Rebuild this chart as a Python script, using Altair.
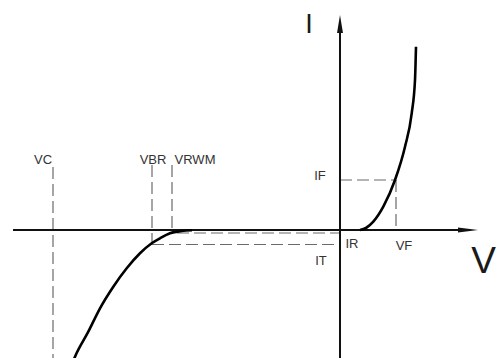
import altair as alt
import pandas as pd

# Forward characteristic (V, I)
fwd_v = [20, 26, 33.3, 43.3, 55, 65, 71.7, 75, 76]
fwd_i = [0, 2, 8.3, 23.3, 50, 83.3, 116.7, 150, 183.3]

# Reverse (breakdown) characteristic
rev_v = [-148, -158.3, -170, -180, -188.3, -200, -213.3, -226.7, -240, -251.7, -265, -268]
rev_i = [-0.3, -1, -3.3, -8.3, -13.3, -23.3, -38.3, -56.7, -78.3, -101.7, -126.7, -134]

# Dashed reference segments
seg_name = ["VC", "VBR", "VRWM", "IR", "IT", "IF", "VF"]
seg_v1 = [-287, -188, -168, -163, -188, 0, 56]
seg_v2 = [-287, -188, -168, 0, 0, 56, 56]
seg_i1 = [63, 65, 65, -3, -14.5, 50, 50]
seg_i2 = [-140, -15, 0, -3, -14.5, 50, 0]

# Small labels
lab_text = ["VC", "VBR", "VRWM", "IF", "IR", "VF", "IT"]
lab_v = [-297, -187, -145, -20, 12, 64, -19]
lab_i = [66, 66, 66, 50, -18, -20, -35]

# Axis labels
big_text = ["I", "V"]
big_v = [-31, 156]
big_i = [197, -43]
big_size = [27, 37]

# Axis lines and arrow heads
axis_v1 = [-327, 0]
axis_v2 = [128, 0]
axis_i1 = [0, -140]
axis_i2 = [0, 206]

xs = alt.Scale(domain=[-332, 156])
ys = alt.Scale(domain=[-128, 222])

def X(f):
    return alt.X(f, type="quantitative", scale=xs, axis=None)

def Y(f):
    return alt.Y(f, type="quantitative", scale=ys, axis=None)

fwd = pd.DataFrame({"V": fwd_v, "I": fwd_i})
rev = pd.DataFrame({"V": rev_v, "I": rev_i})
segs = pd.DataFrame({"name": seg_name, "v1": seg_v1, "v2": seg_v2, "i1": seg_i1, "i2": seg_i2})
labs = pd.DataFrame({"t": lab_text, "V": lab_v, "I": lab_i})
bigs = pd.DataFrame({"t": big_text, "V": big_v, "I": big_i, "s": big_size})
axes = pd.DataFrame({"v1": axis_v1, "v2": axis_v2, "i1": axis_i1, "i2": axis_i2})
arrow_h = pd.DataFrame({"V": [128], "I": [0]})
arrow_v = pd.DataFrame({"V": [0], "I": [206]})

dash_layer = alt.Chart(segs).mark_rule(
    color="#6a6a6a", strokeWidth=1.2, strokeDash=[12, 5]
).encode(x=X("v1"), x2="v2", y=Y("i1"), y2="i2")

axis_layer = alt.Chart(axes).mark_rule(color="#111111", strokeWidth=2).encode(
    x=X("v1"), x2="v2", y=Y("i1"), y2="i2"
)

arrow_h_layer = alt.Chart(arrow_h).mark_point(
    shape="M1,0L-1,-0.25L-1,0.25Z", filled=True, size=400, color="#111111", opacity=1, strokeWidth=0
).encode(x=X("V"), y=Y("I"))

arrow_v_layer = alt.Chart(arrow_v).mark_point(
    shape="M0,-1L0.33,1L-0.33,1Z", filled=True, size=324, color="#111111", opacity=1, strokeWidth=0
).encode(x=X("V"), y=Y("I"))

fwd_layer = alt.Chart(fwd).mark_line(color="#000000", strokeWidth=2.6, interpolate="monotone").encode(
    x=X("V"), y=Y("I")
)
rev_layer = alt.Chart(rev).mark_line(color="#000000", strokeWidth=2.6, interpolate="monotone").encode(
    x=X("V"), y=Y("I")
)

lab_layer = alt.Chart(labs).mark_text(
    font="Liberation Sans", fontSize=13, color="#333333", align="center", baseline="alphabetic"
).encode(x=X("V"), y=Y("I"), text="t")

big_i_layer = alt.Chart(bigs[bigs.t == "I"]).mark_text(
    font="Liberation Sans", color="#1a1a1a", align="center", baseline="alphabetic"
).encode(x=X("V"), y=Y("I"), text="t", size=alt.Size("s:Q", scale=None, legend=None))

big_v_layer = alt.Chart(bigs[bigs.t == "V"]).mark_text(
    font="Liberation Sans", color="#1a1a1a", align="right", baseline="alphabetic"
).encode(x=X("V"), y=Y("I"), text="t", size=alt.Size("s:Q", scale=None, legend=None))

chart = alt.layer(
    dash_layer, axis_layer, arrow_h_layer, arrow_v_layer, fwd_layer, rev_layer,
    lab_layer, big_i_layer, big_v_layer
).properties(width=488, height=350, padding=0, autosize=alt.AutoSizeParams(type="none")).configure_view(stroke=None)

chart.save("out.html", embed_options={"renderer": "svg", "actions": False})
